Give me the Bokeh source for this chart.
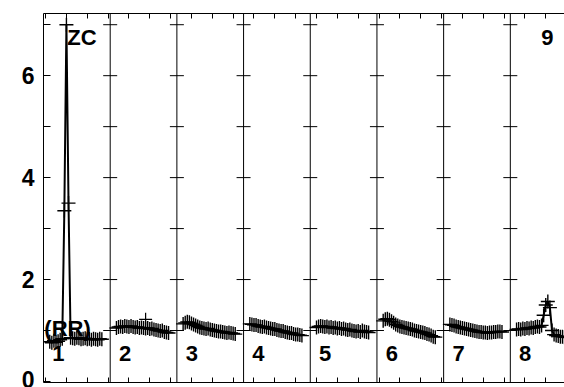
from bokeh.plotting import figure
from bokeh.models import Range1d, LinearAxis, FixedTicker, Label, Span
from bokeh.embed import file_html
from bokeh.resources import INLINE

# ---- data -------------------------------------------------------------
panel_1 = [0.78, 0.76, 0.80, 0.77, 0.79, 0.82, 0.84, 3.35, 7.00, 3.50, 0.86,
           0.85, 0.84, 0.86, 0.85, 0.83, 0.84, 0.85, 0.83, 0.84, 0.82, 0.84,
           0.83, 0.82, 0.84, 0.83]
panel_2 = [1.05, 1.07, 1.08, 1.07, 1.09, 1.08, 1.07, 1.09, 1.07, 1.06, 1.07,
           1.05, 1.06, 1.05, 1.04, 1.05, 1.03, 1.04, 1.02, 1.01, 1.00, 0.99,
           1.00, 0.97, 0.96, 0.95]
panel_3 = [1.13, 1.15, 1.17, 1.16, 1.14, 1.12, 1.10, 1.08, 1.06, 1.05, 1.04,
           1.03, 1.04, 1.02, 1.01, 1.00, 0.99, 0.98, 0.98, 0.97, 0.96, 0.95,
           0.96, 0.95, 0.94, 0.93]
panel_4 = [1.13, 1.12, 1.11, 1.11, 1.09, 1.08, 1.07, 1.08, 1.06, 1.05, 1.04,
           1.03, 1.03, 1.01, 1.00, 0.99, 0.99, 0.97, 0.96, 0.95, 0.95, 0.93,
           0.92, 0.92, 0.91, 0.90]
panel_5 = [1.06, 1.08, 1.09, 1.08, 1.07, 1.08, 1.06, 1.07, 1.05, 1.06, 1.04,
           1.05, 1.03, 1.04, 1.02, 1.01, 1.02, 1.00, 0.99, 0.98, 0.99, 0.97,
           1.00, 0.98, 0.97, 0.96]
panel_6 = [1.19, 1.22, 1.23, 1.21, 1.18, 1.15, 1.12, 1.10, 1.08, 1.07, 1.06,
           1.05, 1.04, 1.03, 1.02, 1.00, 0.99, 0.98, 0.97, 0.96, 0.95, 0.93,
           0.92, 0.90, 0.88, 0.87]
panel_7 = [1.12, 1.11, 1.10, 1.08, 1.07, 1.06, 1.05, 1.04, 1.03, 1.02, 1.01,
           1.00, 0.99, 0.98, 0.97, 0.97, 0.96, 0.96, 0.95, 0.96, 0.96, 0.97,
           0.97, 0.98, 0.98, 0.97]
panel_8 = [1.02, 1.03, 1.02, 1.04, 1.03, 1.05, 1.04, 1.06, 1.05, 1.07, 1.08,
           1.07, 1.10, 1.30, 1.50, 1.57, 1.45, 1.00, 0.92, 0.90, 0.89, 0.88,
           0.88, 0.87, 0.87, 0.86]
panels = [panel_1, panel_2, panel_3, panel_4, panel_5, panel_6, panel_7, panel_8]
panel_labels = ["1", "2", "3", "4", "5", "6", "7", "8"]

outlier_x = [24.0]
outlier_y = [1.22]

PANEL_LEN = 16
STEP = 0.5
FIRST = 1.0

y_ticks = [0, 1, 2, 3, 4, 5, 6, 7]
y_tick_labels = {1: "", 3: "", 5: "", 7: ""}
x_ticks = list(range(0, 126, 5))
divider_x = [PANEL_LEN * k - 0.5 for k in range(1, 8)]
divider_tick_y = [1, 2, 3, 4, 5, 6, 7]

FONT = "Liberation Sans"

# ---- figure -----------------------------------------------------------
p = figure(width=564, height=387, output_backend="svg", toolbar_location=None,
           x_range=Range1d(-0.5, 124.5), y_range=Range1d(-0.02, 7.22),
           x_axis_location=None, y_axis_location=None,
           min_border_left=43, min_border_right=0,
           min_border_top=13, min_border_bottom=5)
p.outline_line_color = None
p.background_fill_color = "white"
p.border_fill_color = "white"

left = LinearAxis(ticker=FixedTicker(ticks=y_ticks))
left.major_label_overrides = y_tick_labels
left.major_tick_in = 7
left.major_tick_out = 0
left.minor_tick_line_color = None
left.major_label_text_font = FONT
left.major_label_text_font_style = "bold"
left.major_label_text_font_size = "23px"
left.major_label_text_color = "black"
left.major_label_standoff = 9
left.axis_line_color = "black"
left.major_tick_line_color = "black"
p.add_layout(left, "left")

for loc in ("above", "below"):
    ax = LinearAxis(ticker=FixedTicker(ticks=x_ticks))
    ax.major_label_overrides = {t: "" for t in x_ticks}
    ax.major_label_text_font_size = "1px"
    ax.major_label_standoff = 0
    ax.major_tick_in = 5
    ax.major_tick_out = 0
    ax.minor_tick_line_color = None
    ax.axis_line_color = "black"
    ax.major_tick_line_color = "black"
    p.add_layout(ax, loc)

p.xgrid.grid_line_color = None
p.ygrid.grid_line_color = None
for g in p.grid:
    g.visible = False

# panel dividers with ticks
for dx in divider_x:
    p.add_layout(Span(location=dx, dimension="height", line_color="black", line_width=1))
dxs = [dx for dx in divider_x for _ in divider_tick_y]
dys = [dy for _ in divider_x for dy in divider_tick_y]
p.scatter(dxs, dys, marker="dash", size=14, line_color="black", line_width=1)

# data
xs_all, ys_all = [], []
for k, vals in enumerate(panels):
    xs = [PANEL_LEN * k + FIRST + STEP * i for i in range(len(vals))]
    xs_all.append(xs)
    ys_all.append(vals)
p.multi_line(xs_all, ys_all, line_color="black", line_width=2)
fx = [x for xs in xs_all for x in xs]
fy = [y for ys in ys_all for y in ys]
p.scatter(fx, fy, marker="cross", size=14, line_color="black", line_width=1.4)
p.scatter(outlier_x, outlier_y, marker="cross", size=13, line_color="black", line_width=1.2)

# labels
for k, lab in enumerate(panel_labels):
    p.add_layout(Label(x=PANEL_LEN * k + 1.6, y=0.55, text=lab, text_font=FONT,
                       text_font_style="bold", text_font_size="22px", text_color="black",
                       text_baseline="middle", text_align="left"))
for (tx, ty, t) in [(5.2, 6.75, "ZC"), (118.9, 6.75, "9"), (-0.3, 1.04, "(RR)")]:
    p.add_layout(Label(x=tx, y=ty, text=t, text_font=FONT,
                       text_font_style="bold", text_font_size="22px", text_color="black",
                       text_baseline="middle", text_align="left"))

open("out.html", "w").write(file_html(p, INLINE))
